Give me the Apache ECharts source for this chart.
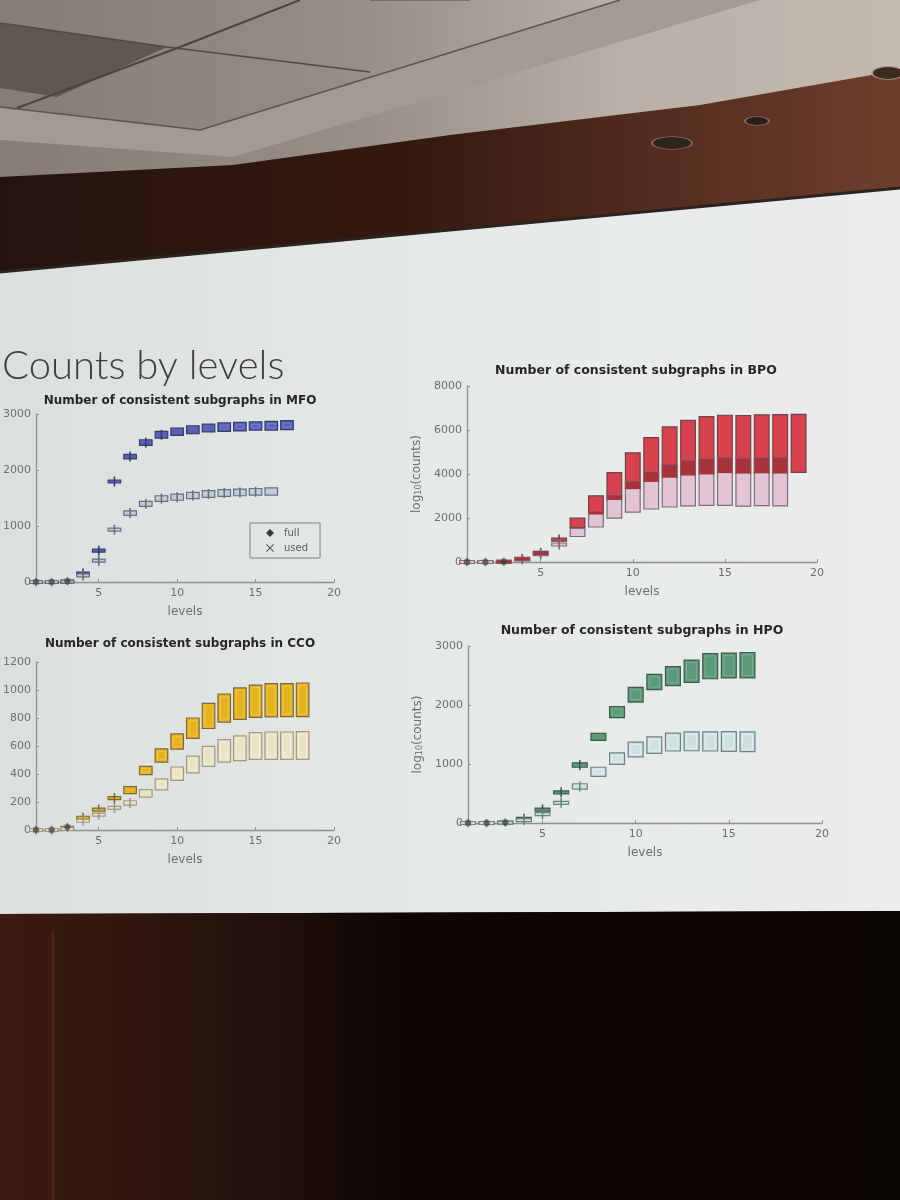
<!DOCTYPE html>
<html>
<head>
<meta charset="utf-8">
<title>Counts by levels</title>
<script src="https://cdn.jsdelivr.net/npm/echarts@6.0.0/dist/echarts.min.js"></script>
<style>
    html, body { margin: 0; padding: 0; background: #120a07; }
    #main { width: 900px; height: 1200px; }
</style>
</head>
<body>
<div id="main"></div>
<script>
// each list runs from level 1 upward, one [lower, upper] box per level
var levelTicks = [5, 10, 15, 20];

var mfoFull = [
    [0, 0], [0, 0], [0, 15], [135, 165], [540, 580], [1770, 1820], [2200, 2280],
    [2440, 2540], [2570, 2690], [2620, 2750], [2650, 2790], [2680, 2820],
    [2690, 2840], [2700, 2850], [2710, 2860], [2710, 2870], [2720, 2880]
];
var mfoUsed = [
    [0, 0], [0, 0], [0, 10], [105, 130], [360, 400], [910, 960], [1190, 1270],
    [1350, 1440], [1440, 1540], [1460, 1570], [1490, 1600], [1510, 1630],
    [1530, 1650], [1540, 1660], [1550, 1670], [1550, 1680]
];

var bpoFull = [
    [0, 0], [0, 0], [0, 10], [120, 160], [380, 450], [980, 1060], [1560, 1990],
    [2190, 3010], [2820, 4060], [3310, 4960], [3640, 5650], [3830, 6140],
    [3930, 6440], [3980, 6610], [4040, 6670], [4020, 6660], [4030, 6690],
    [4020, 6700], [4070, 6710]
];
var bpoUsed = [
    [0, 0], [0, 0], [0, 10], [100, 140], [330, 390], [760, 830], [1160, 1530],
    [1590, 2260], [1990, 3040], [2270, 3660], [2410, 4090], [2500, 4430],
    [2550, 4620], [2570, 4690], [2570, 4750], [2540, 4710], [2560, 4740],
    [2550, 4750]
];

var ccoFull = [
    [0, 0], [0, 0], [10, 20], [80, 95], [140, 152], [220, 235], [260, 310],
    [395, 455], [485, 580], [578, 686], [655, 800], [725, 905], [770, 970],
    [790, 1015], [805, 1035], [808, 1045], [810, 1045], [810, 1050]
];
var ccoUsed = [
    [0, 0], [0, 0], [5, 12], [60, 72], [105, 116], [150, 165], [178, 209],
    [235, 288], [286, 365], [355, 450], [408, 528], [454, 598], [485, 645],
    [495, 672], [505, 695], [505, 700], [505, 700], [505, 702]
];

var hpoFull = [
    [0, 0], [0, 0], [0, 10], [60, 80], [215, 240], [505, 535], [945, 1020],
    [1400, 1520], [1785, 1975], [2050, 2300], [2260, 2520], [2330, 2650],
    [2385, 2760], [2445, 2870], [2460, 2880], [2460, 2890]
];
var hpoUsed = [
    [0, 0], [0, 0], [0, 10], [40, 60], [140, 160], [330, 355], [575, 665],
    [790, 945], [995, 1190], [1120, 1370], [1180, 1460], [1220, 1525],
    [1225, 1545], [1220, 1545], [1215, 1550], [1210, 1545]
];

// levels drawn as outliers on the axis
var flierLevels = [1, 2, 3];

var X_ICON = 'path://M1,0 L5,4 L9,0 L10,1 L6,5 L10,9 L9,10 L5,6 L1,10 L0,9 L4,5 L0,1 Z';
var FONT = '"DejaVu Sans", sans-serif';
var BOX_HALF = 0.4;

function withLevels(list) {
    return list.map(function (v, i) {
        return [i + 1, v[0], v[1]];
    });
}

// where a used box runs into a full box the slide shows a darker band
function overlapOf(full, used) {
    var out = [];
    for (var i = 0; i < used.length && i < full.length; i++) {
        var lo = Math.max(full[i][0], used[i][0]);
        var hi = Math.min(full[i][1], used[i][1]);
        if (hi > lo) out.push([i + 1, lo, hi]);
    }
    return out;
}

function boxRenderer(st) {
    return function (params, api) {
        var lv = api.value(0), lo = api.value(1), hi = api.value(2);
        var a = api.coord([lv - BOX_HALF, hi]);
        var b = api.coord([lv + BOX_HALF, lo]);
        var x = a[0], w = b[0] - a[0];
        var y = a[1], h = b[1] - a[1];
        if (h < 3) {
            y = (a[1] + b[1]) / 2 - 1.5;
            h = 3;
        }
        var kids = [{
            type: 'rect',
            shape: {x: x, y: y, width: w, height: h},
            style: {fill: st.fill, stroke: st.edge, lineWidth: st.edge ? 1.2 : 0}
        }];
        if (st.inner && h > 8) {
            kids.push({
                type: 'rect',
                shape: {x: x + 2.4, y: y + 2.4, width: w - 4.8, height: h - 4.8},
                style: {fill: 'none', stroke: st.inner, lineWidth: 0.8}
            });
        }
        if (st.edge && hi > 20 && h < 7) {
            //tiny boxes show their whiskers as a cross
            var cx = x + w / 2, cy = y + h / 2;
            kids.push({
                type: 'line',
                shape: {x1: cx, y1: cy - 5, x2: cx, y2: cy + 5},
                style: {stroke: st.edge, lineWidth: 1.6}
            });
        }
        return {type: 'group', children: kids};
    };
}

var panels = [
    {
        title: 'Number of consistent subgraphs in MFO', full: mfoFull, used: mfoUsed,
        yMax: 3000, yStep: 1000, logName: false,
        grid: {left: 34, top: 414, width: 300, height: 168}, titlePos: [180, 401], titleSize: 12,
        fullStyle: {fill: '#5862b6', edge: '#363c6e', inner: '#7f88cf'},
        usedStyle: {fill: '#c4cad6', edge: '#667080', inner: '#e2e6ee'}
    },
    {
        title: 'Number of consistent subgraphs in BPO', full: bpoFull, used: bpoUsed,
        yMax: 8000, yStep: 2000, logName: true, overlap: '#a7323c',
        grid: {left: 467, top: 386, width: 350, height: 176}, titlePos: [636, 371], titleSize: 12.5,
        fullStyle: {fill: '#d8424f', edge: '#6e4248', inner: null},
        usedStyle: {fill: '#e3c4d4', edge: '#7c6e76', inner: null}
    },
    {
        title: 'Number of consistent subgraphs in CCO', full: ccoFull, used: ccoUsed,
        yMax: 1200, yStep: 200, logName: false,
        grid: {left: 34, top: 662, width: 300, height: 168}, titlePos: [180, 644], titleSize: 12,
        fullStyle: {fill: '#e6b320', edge: '#7d6a3c', inner: '#f2ca52'},
        usedStyle: {fill: '#ebe3c6', edge: '#a09a82', inner: '#f6f1df'}
    },
    {
        title: 'Number of consistent subgraphs in HPO', full: hpoFull, used: hpoUsed,
        yMax: 3000, yStep: 1000, logName: true,
        grid: {left: 468, top: 646, width: 354, height: 177}, titlePos: [642, 631], titleSize: 12.5,
        fullStyle: {fill: '#5c9a7a', edge: '#3d5c4d', inner: '#80b49a'},
        usedStyle: {fill: '#cfe0e1', edge: '#6c8582', inner: '#e8f1f1'}
    }
];

var grids = [], xAxes = [], yAxes = [], series = [];
var texts = [];

panels.forEach(function (p, i) {
    grids.push(p.grid);
    xAxes.push({
        type: 'value', gridIndex: i, min: 1, max: 20,
        name: 'levels', nameLocation: 'middle', nameGap: 24,
        nameTextStyle: {color: '#6b6e6d', fontSize: 12, fontFamily: FONT},
        axisLine: {lineStyle: {color: '#8e9190', width: 1.3}},
        axisTick: {show: true, inside: true, length: 3, customValues: levelTicks, lineStyle: {color: '#8e9190'}},
        axisLabel: {customValues: levelTicks, color: '#6b6e6d', fontSize: 11, fontFamily: FONT, margin: 6},
        splitLine: {show: false}
    });
    yAxes.push({
        type: 'value', gridIndex: i, min: 0, max: p.yMax, interval: p.yStep,
        name: p.logName ? 'log{sub|10}(counts)' : '', nameLocation: 'middle', nameGap: 44,
        nameTextStyle: {
            color: '#6b6e6d', fontSize: 12, fontFamily: FONT,
            rich: {sub: {fontSize: 8, fontFamily: FONT, color: '#6b6e6d', verticalAlign: 'bottom', lineHeight: 10}}
        },
        axisLine: {show: true, lineStyle: {color: '#8e9190', width: 1.3}},
        axisTick: {show: true, inside: true, length: 3, lineStyle: {color: '#8e9190'}},
        axisLabel: {
            color: '#6b6e6d', fontSize: 11, fontFamily: FONT, margin: 5,
            formatter: function (v) { return String(v); }
        },
        splitLine: {show: false}
    });

    var fliers = flierLevels.map(function (lv) {
        return [lv, p.full[lv - 1][1]];
    });
    series.push({
        type: 'scatter', name: 'used', xAxisIndex: i, yAxisIndex: i,
        symbol: X_ICON, symbolSize: 6, itemStyle: {color: '#4a4a4a'},
        data: fliers, z: 2, silent: true
    });
    series.push({
        type: 'custom', name: 'full', xAxisIndex: i, yAxisIndex: i,
        renderItem: boxRenderer(p.fullStyle), encode: {x: 0, y: [1, 2]},
        data: withLevels(p.full), z: 3
    });
    series.push({
        type: 'custom', name: 'used', xAxisIndex: i, yAxisIndex: i,
        renderItem: boxRenderer(p.usedStyle), encode: {x: 0, y: [1, 2]},
        data: withLevels(p.used), z: 4
    });
    if (p.overlap) {
        series.push({
            type: 'custom', name: 'overlap', xAxisIndex: i, yAxisIndex: i,
            renderItem: boxRenderer({fill: p.overlap, edge: null, inner: null}),
            encode: {x: 0, y: [1, 2]},
            data: overlapOf(p.full, p.used), z: 5
        });
    }
    series.push({
        type: 'scatter', name: 'full', xAxisIndex: i, yAxisIndex: i,
        symbol: 'diamond', symbolSize: [7, 9], itemStyle: {color: '#444'},
        data: fliers, z: 6, silent: true
    });

    texts.push({
        type: 'text', x: p.titlePos[0], y: p.titlePos[1], z: 20,
        style: {
            text: p.title, font: 'bold ' + p.titleSize + 'px ' + FONT, fill: '#262626',
            textAlign: 'center', textVerticalAlign: 'middle'
        }
    });
});

// the room around the projection screen
var room = [
    {type: 'rect', shape: {x: 0, y: 0, width: 900, height: 330}, z: -30,
        style: {fill: new echarts.graphic.LinearGradient(0, 0, 1, 0, [
            {offset: 0, color: '#857c74'}, {offset: 0.4, color: '#978e85'},
            {offset: 0.7, color: '#b9b0a7'}, {offset: 1, color: '#c3b9af'}])}},
    {type: 'polygon', shape: {points: [[0, 23], [167, 47], [57, 97], [0, 88]]}, z: -29,
        style: {fill: '#5f5852'}},
    {type: 'polygon', shape: {points: [[0, 107], [200, 130], [620, 0], [760, 0], [233, 157], [0, 140]]}, z: -29,
        style: {fill: '#a39a91'}},
    {type: 'polyline', shape: {points: [[300, 0], [180, 47], [17, 108]]}, z: -28,
        style: {stroke: '#4a443f', lineWidth: 2}},
    {type: 'polyline', shape: {points: [[0, 23], [167, 47], [370, 72]]}, z: -28,
        style: {stroke: '#4f4943', lineWidth: 1.5}},
    {type: 'polyline', shape: {points: [[0, 107], [200, 130], [620, 0]]}, z: -28,
        style: {stroke: '#5a534d', lineWidth: 1.5}},
    {type: 'polyline', shape: {points: [[370, 0], [470, 0]]}, z: -28,
        style: {stroke: '#4f4943', lineWidth: 1}},
    {type: 'polygon', shape: {points: [[0, 177], [233, 165], [450, 135], [700, 105], [900, 70], [900, 190], [0, 275]]}, z: -27,
        style: {fill: new echarts.graphic.LinearGradient(0, 0, 1, 0, [
            {offset: 0, color: '#26130e'}, {offset: 0.45, color: '#34190f'},
            {offset: 0.8, color: '#5a3123'}, {offset: 1, color: '#6e3e2c'}])}},
    {type: 'circle', x: 672, y: 143, scaleY: 0.32, shape: {cx: 0, cy: 0, r: 20}, z: -26,
        style: {fill: '#2f231e', stroke: '#8a6a58', lineWidth: 2}},
    {type: 'circle', x: 757, y: 121, scaleY: 0.36, shape: {cx: 0, cy: 0, r: 12}, z: -26,
        style: {fill: '#2a1e1a', stroke: '#8a6a58', lineWidth: 2}},
    {type: 'circle', x: 888, y: 73, scaleY: 0.4, shape: {cx: 0, cy: 0, r: 16}, z: -26,
        style: {fill: '#3a2a22', stroke: '#b89a88', lineWidth: 2}},
    {type: 'polygon', shape: {points: [[0, 272], [900, 188], [900, 911], [0, 914]]}, z: -25,
        style: {fill: new echarts.graphic.LinearGradient(0, 0, 1, 0, [
            {offset: 0, color: '#dbe0de'}, {offset: 0.5, color: '#e5e9e7'},
            {offset: 1, color: '#eaedeb'}])}},
    {type: 'polyline', shape: {points: [[0, 272], [900, 188]]}, z: -24,
        style: {stroke: '#2a2320', lineWidth: 3}},
    {type: 'polygon', shape: {points: [[0, 914], [900, 911], [900, 1200], [0, 1200]]}, z: -25,
        style: {fill: new echarts.graphic.LinearGradient(0, 0, 1, 0, [
            {offset: 0, color: '#3d1b11'}, {offset: 0.3, color: '#22100b'},
            {offset: 0.45, color: '#0d0605'}, {offset: 1, color: '#0b0504'}])}},
    {type: 'line', shape: {x1: 53, y1: 930, x2: 53, y2: 1200}, z: -24,
        style: {stroke: '#5a2b1c', lineWidth: 1.5}},
    {type: 'text', x: 2, y: 366, z: 20,
        style: {text: 'Counts by levels', font: '300 40px Lato, "Open Sans", sans-serif',
            fill: '#3e3e3e', textVerticalAlign: 'middle'}}
];

var myChart = echarts.init(document.getElementById('main'));
myChart.setOption({
    animation: false,
    backgroundColor: '#120a07',
    graphic: {elements: room.concat(texts)},
    legend: {
        data: [
            {name: 'full', icon: 'diamond', itemStyle: {color: '#3a3a3a'}},
            {name: 'used', icon: X_ICON, itemStyle: {color: '#3a3a3a'}}
        ],
        orient: 'vertical', left: 250, top: 523,
        itemWidth: 8, itemHeight: 8, itemGap: 5,
        padding: [5, 12, 5, 16],
        borderColor: '#7f8281', borderWidth: 1,
        selectedMode: false,
        textStyle: {fontFamily: FONT, fontSize: 10, color: '#5a5d5c', padding: [0, 0, 0, 5]}
    },
    grid: grids,
    xAxis: xAxes,
    yAxis: yAxes,
    series: series
});
</script>
</body>
</html>
